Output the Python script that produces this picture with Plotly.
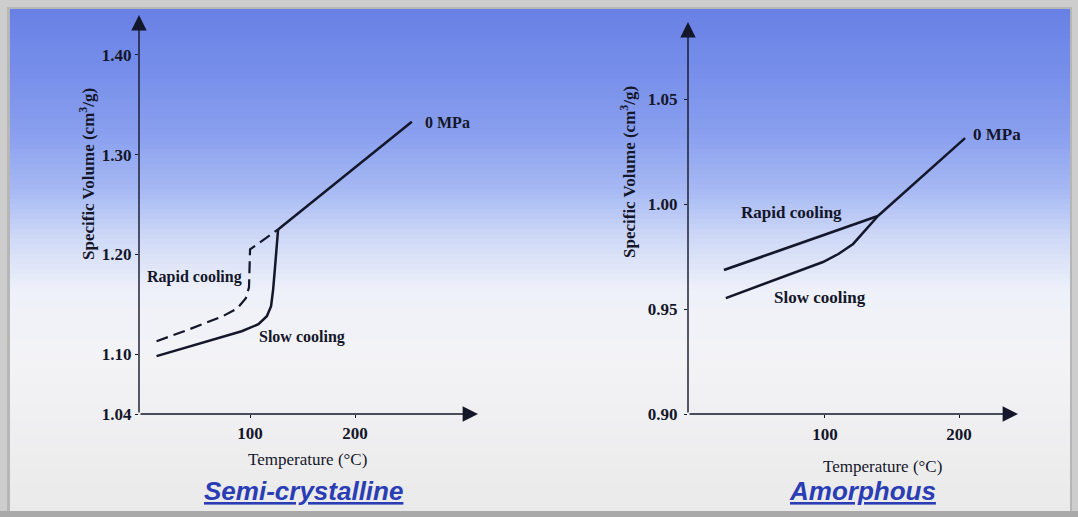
import plotly.graph_objects as go

# ---------------- data ----------------
# Semi-crystalline (left)
semi_slow_T = [11, 50, 92, 108, 116, 120, 122, 124, 126.7]
semi_slow_V = [1.098, 1.110, 1.123, 1.130, 1.138, 1.148, 1.165, 1.190, 1.225]
semi_rapid_T = [11, 40, 74, 88, 96, 99, 100, 126.7]
semi_rapid_V = [1.113, 1.124, 1.138, 1.146, 1.156, 1.167, 1.205, 1.225]
semi_melt_T = [126.7, 254]
semi_melt_V = [1.225, 1.333]
semi_yticks = [1.04, 1.10, 1.20, 1.30, 1.40]
semi_xticks = [100, 200]

# Amorphous (right)
amor_rapid_T = [24.6, 139.5]
amor_rapid_V = [0.9686, 0.9943]
amor_slow_T = [26, 98.5, 110, 121, 139.5]
amor_slow_V = [0.9552, 0.9724, 0.9762, 0.9810, 0.9943]
amor_melt_T = [139.5, 204.5]
amor_melt_V = [0.9943, 1.0314]
amor_yticks = [0.90, 0.95, 1.00, 1.05]
amor_xticks = [100, 200]

# labels: (text, T, V)
semi_labels = [("Rapid cooling", 46.7, 1.177), ("Slow cooling", 149.5, 1.117), ("0 MPa", 288, 1.332)]
amor_labels = [("Rapid cooling", 75, 0.9962), ("Slow cooling", 96.3, 0.9557), ("0 MPa", 228.7, 1.0329)]

W, H = 1078, 517
INK = "#14162a"
SERIF = "Liberation Serif"

def px(x):
    return x / W

def py(y):
    return 1 - y / H

fig = go.Figure()

line_style = dict(color=INK, width=2.5)
fig.add_trace(go.Scatter(x=semi_slow_T, y=semi_slow_V, mode="lines", line=line_style, xaxis="x", yaxis="y", showlegend=False, hoverinfo="skip"))
fig.add_trace(go.Scatter(x=semi_rapid_T, y=semi_rapid_V, mode="lines", line=dict(color=INK, width=2.2, dash="12px,6px"), xaxis="x", yaxis="y", showlegend=False, hoverinfo="skip"))
fig.add_trace(go.Scatter(x=semi_melt_T, y=semi_melt_V, mode="lines", line=line_style, xaxis="x", yaxis="y", showlegend=False, hoverinfo="skip"))

fig.add_trace(go.Scatter(x=amor_rapid_T, y=amor_rapid_V, mode="lines", line=dict(color=INK, width=2.8), xaxis="x2", yaxis="y2", showlegend=False, hoverinfo="skip"))
fig.add_trace(go.Scatter(x=amor_slow_T, y=amor_slow_V, mode="lines", line=line_style, xaxis="x2", yaxis="y2", showlegend=False, hoverinfo="skip"))
fig.add_trace(go.Scatter(x=amor_melt_T, y=amor_melt_V, mode="lines", line=line_style, xaxis="x2", yaxis="y2", showlegend=False, hoverinfo="skip"))

# axis ranges
L_x = [-5.71, 317]
L_y = [1.04, 1.44]
R_x = [-2.2, 244]
R_y = [0.90, 1.0867]

tickfont = dict(family=SERIF, size=17, color=INK, weight="bold")
common = dict(showgrid=False, zeroline=False, showline=False, ticks="outside", ticklen=3,
              tickcolor=INK, tickwidth=1, tickfont=tickfont, automargin=False, fixedrange=True)

fig.update_layout(
    width=W, height=H, autosize=False,
    margin=dict(l=0, r=0, t=0, b=0),
    paper_bgcolor="#cdcdcd",
    plot_bgcolor="rgba(0,0,0,0)",
    xaxis=dict(domain=[px(139), px(478)], range=L_x, tickvals=semi_xticks, anchor="y",
               ticklabelstandoff=1, **common),
    yaxis=dict(domain=[py(414), py(15)], range=L_y, tickvals=semi_yticks, tickformat=".2f",
               anchor="x", ticklabelstandoff=0, **common),
    xaxis2=dict(domain=[px(688), px(1018)], range=R_x, tickvals=amor_xticks, anchor="y2",
                ticklabelstandoff=2, **common),
    yaxis2=dict(domain=[py(414), py(22)], range=R_y, tickvals=amor_yticks, tickformat=".2f",
                anchor="x2", ticklabelstandoff=3, **common),
)

# ---------- background: gray frame + vertical gradient panel ----------
shapes = []
shapes.append(dict(type="rect", xref="paper", yref="paper", x0=px(7), x1=px(1072), y0=py(514), y1=py(7),
                   fillcolor="#b6b6b6", line=dict(width=0), layer="below"))
shapes.append(dict(type="rect", xref="paper", yref="paper", x0=0, x1=1, y0=0, y1=py(511),
                   fillcolor="#a9a9a9", line=dict(width=0), layer="below"))
stops = [(9, (104, 128, 228)), (60, (116, 140, 233)), (130, (136, 158, 238)), (190, (166, 185, 243)),
         (240, (208, 218, 247)), (290, (238, 241, 249)), (360, (243, 243, 246)), (511, (234, 234, 234))]

def color_at(y):
    for (y0, c0), (y1, c1) in zip(stops[:-1], stops[1:]):
        if y0 <= y <= y1:
            t = (y - y0) / (y1 - y0)
            return tuple(int(round(a + (b - a) * t)) for a, b in zip(c0, c1))
    return stops[-1][1]

step = 5
for y in range(9, 511, step):
    c = color_at(y + step / 2)
    shapes.append(dict(type="rect", xref="paper", yref="paper", x0=px(10), x1=px(1070),
                       y0=py(min(y + step, 511)), y1=py(y),
                       fillcolor="rgb(%d,%d,%d)" % c, line=dict(width=0), layer="below"))
fig.update_layout(shapes=shapes)

# ---------- annotations ----------
ann = []
# axis arrows
for xr, yr, xrng, yrng in [("x", "y", L_x, L_y), ("x2", "y2", R_x, R_y)]:
    ann.append(dict(x=xrng[0], y=yrng[1], ax=xrng[0], ay=yrng[0], xref=xr, yref=yr, axref=xr, ayref=yr,
                    text="", showarrow=True, arrowhead=2, arrowsize=2.2, arrowwidth=1.4, arrowcolor=INK))
    ann.append(dict(x=xrng[1], y=yrng[0], ax=xrng[0], ay=yrng[0], xref=xr, yref=yr, axref=xr, ayref=yr,
                    text="", showarrow=True, arrowhead=2, arrowsize=2.2, arrowwidth=1.4, arrowcolor=INK))

for text, t, v in semi_labels:
    ann.append(dict(x=t, y=v, xref="x", yref="y", text=text, showarrow=False, xanchor="center",
                    yanchor="middle", font=dict(family=SERIF, size=16, color=INK, weight="bold")))
for text, t, v in amor_labels:
    ann.append(dict(x=t, y=v, xref="x2", yref="y2", text=text, showarrow=False, xanchor="center",
                    yanchor="middle", font=dict(family=SERIF, size=17, color=INK, weight="bold")))

ytitle = "Specific Volume (cm<sup>3</sup>/g)"
for xc, yc in [(87, 174), (628, 172)]:
    ann.append(dict(x=px(xc), y=py(yc), xref="paper", yref="paper", text=ytitle, textangle=-90,
                    xanchor="center", yanchor="middle", showarrow=False,
                    font=dict(family=SERIF, size=17, color=INK, weight="bold")))

xtitle = "Temperature (°C)"
for xc, yc in [(307, 459), (882, 466)]:
    ann.append(dict(x=px(xc), y=py(yc), xref="paper", yref="paper", text=xtitle, showarrow=False,
                    xanchor="center", yanchor="middle", font=dict(family=SERIF, size=17, color=INK)))

title_font = dict(family="Liberation Sans", size=26, color="#2a3db4", weight="bold", style="italic",
                  lineposition="under")
for text, xc in [("Semi-crystalline", 303), ("Amorphous", 862)]:
    ann.append(dict(x=px(xc), y=py(491), xref="paper", yref="paper", text=text, showarrow=False,
                    xanchor="center", yanchor="middle", font=title_font))

fig.update_layout(annotations=ann, hovermode=False)

fig.write_html("out.html", config={"displayModeBar": False, "staticPlot": True},
               post_script="document.body.style.margin='0';document.body.style.overflow='hidden';")
